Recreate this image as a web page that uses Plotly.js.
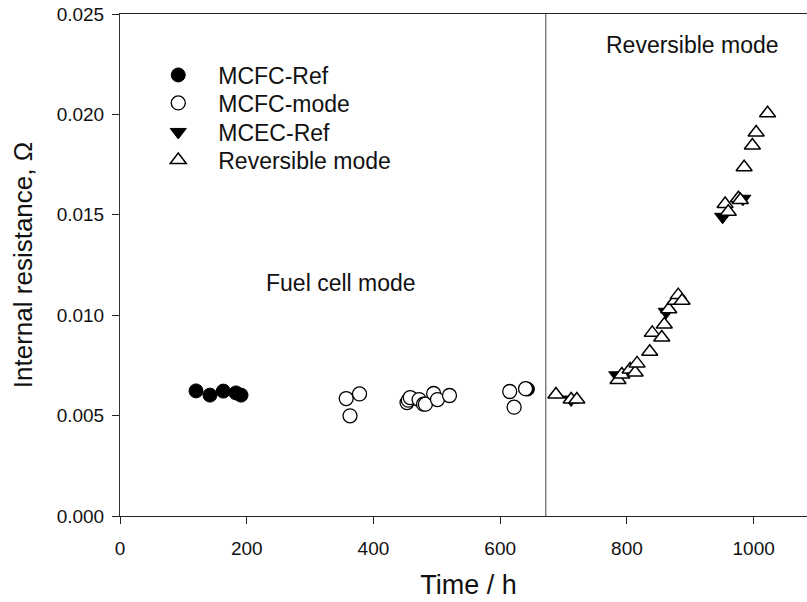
<!DOCTYPE html>
<html>
<head>
<meta charset="utf-8">
<script src="https://cdn.plot.ly/plotly-3.0.1.min.js"></script>
<style>html,body{margin:0;padding:0;background:#fff;overflow:hidden;}#chart{width:818px;height:602px;}</style>
</head>
<body>
<div id="chart"></div>
<script>
// Data
var mcfcRefTime = [120, 142, 163, 183, 191, 643];
var mcfcRefRes  = [0.00623, 0.00602, 0.00622, 0.00613, 0.00602, 0.00632];

var mcfcModeTime = [357, 363, 378, 453, 455, 458, 472, 479, 482, 495, 501, 520, 615, 622, 640];
var mcfcModeRes  = [0.00585, 0.00499, 0.00608, 0.00565, 0.00577, 0.0059, 0.0058, 0.00557, 0.00557, 0.0061, 0.0058, 0.0060, 0.0062, 0.00542, 0.00634];

var mcecRefTime = [712, 784, 862, 951, 983];
var mcecRefRes  = [0.0058, 0.00701, 0.01017, 0.0149, 0.0158];

var revTime = [688, 712, 721, 786, 792, 805, 813, 816, 836, 840, 855, 859, 866, 876, 881, 887, 955, 960, 976, 979, 985, 998, 1004, 1022];
var revRes  = [0.00605, 0.0058, 0.0058, 0.00677, 0.00705, 0.0073, 0.00715, 0.0076, 0.00818, 0.00912, 0.00889, 0.00954, 0.0103, 0.01072, 0.0110, 0.01072, 0.01554, 0.01515, 0.01582, 0.01574, 0.01737, 0.01845, 0.0191, 0.02006];

var xTicks = [0, 200, 400, 600, 800, 1000];
var yTicks = [0, 0.005, 0.01, 0.015, 0.02, 0.025];
var yTickText = ['0.000', '0.005', '0.010', '0.015', '0.020', '0.025'];

var modeSwitchTime = 672;

var FONT = 'Liberation Sans, Arial, sans-serif';
var TXT = '#111';

var traces = [
  {x: mcfcRefTime, y: mcfcRefRes, name: 'MCFC-Ref', type: 'scatter', mode: 'markers', legend: 'legend',
   marker: {symbol: 'circle', size: 14, color: '#000', line: {color: '#000', width: 1}}},
  {x: mcfcModeTime, y: mcfcModeRes, name: 'MCFC-mode', type: 'scatter', mode: 'markers', legend: 'legend2',
   marker: {symbol: 'circle', size: 14, color: '#fff', line: {color: '#000', width: 1.3}}},
  {x: mcecRefTime, y: mcecRefRes, name: 'MCEC-Ref', type: 'scatter', mode: 'markers', legend: 'legend3',
   marker: {symbol: 'triangle-down', size: 14, color: '#000', line: {color: '#000', width: 1}}},
  {x: revTime, y: revRes, name: 'Reversible mode', type: 'scatter', mode: 'markers', legend: 'legend4',
   marker: {symbol: 'triangle-up', size: 14, color: '#fff', line: {color: '#000', width: 1.5}}}
];

function legendAt(py) {
  return {x: 0.0262, y: 1 - (py - 14) / 502, xanchor: 'left', yanchor: 'middle',
          bgcolor: 'rgba(0,0,0,0)', itemwidth: 70,
          font: {family: FONT, size: 23, color: TXT}};
}

var layout = {
  width: 818, height: 602,
  margin: {l: 120, r: 1, t: 14, b: 86},
  paper_bgcolor: '#fff', plot_bgcolor: '#fff',
  font: {family: FONT, color: TXT},
  showlegend: true,
  legend: legendAt(75),
  legend2: legendAt(103),
  legend3: legendAt(132),
  legend4: legendAt(160),
  xaxis: {
    range: [0, 1100], showgrid: false, zeroline: false,
    showline: true, linecolor: '#222', linewidth: 1, mirror: true,
    ticks: 'outside', ticklen: 7, tickcolor: '#222', tickwidth: 1,
    tickvals: xTicks, ticktext: xTicks.map(String),
    tickfont: {family: FONT, size: 19, color: TXT},
    ticklabelstandoff: 8,
    title: {text: 'Time / h', font: {family: FONT, size: 27, color: TXT}, standoff: 17}
  },
  yaxis: {
    range: [0, 0.025], showgrid: false, zeroline: false,
    showline: true, linecolor: '#333', linewidth: 1, mirror: false,
    ticks: 'outside', ticklen: 7, tickcolor: '#222', tickwidth: 1,
    tickvals: yTicks, ticktext: yTickText,
    tickfont: {family: FONT, size: 19, color: TXT},
    ticklabelstandoff: 4,
    title: {text: 'Internal resistance, Ω', font: {family: FONT, size: 26, color: TXT}, standoff: 16}
  },
  shapes: [
    {type: 'line', xref: 'x', yref: 'y', x0: modeSwitchTime, x1: modeSwitchTime, y0: 0, y1: 0.025,
     line: {color: '#444', width: 1}}
  ],
  annotations: [
    {x: 349, y: 0.0116, xref: 'x', yref: 'y', text: 'Fuel cell mode', showarrow: false,
     font: {family: FONT, size: 23, color: TXT}},
    {x: 903, y: 0.02346, xref: 'x', yref: 'y', text: 'Reversible mode', showarrow: false,
     font: {family: FONT, size: 23, color: TXT}}
  ]
};

Plotly.newPlot('chart', traces, layout, {displayModeBar: false, staticPlot: true});
</script>
</body>
</html>
